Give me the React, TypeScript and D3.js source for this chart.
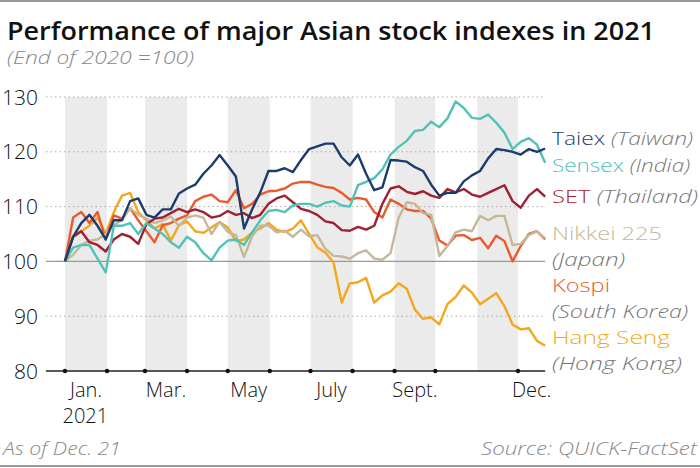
import React from "react";
import * as d3 from "d3";

const STEP_DAYS = 6;
const START = new Date(2021, 0, 1);

const taiex = [100, 104.5, 107, 108.5, 106.5, 104, 107.5, 107.5, 111, 111.5, 108.5, 108, 109.5, 109.5, 112.4, 113.3, 114, 116, 117.5, 119.4, 117.5, 115.5, 106, 109.5, 112.6, 116.5, 116.5, 117, 116.3, 118.5, 120.5, 121, 121.5, 121.5, 119, 117.5, 119.5, 116, 113, 113.5, 118.5, 118.4, 118.2, 117.2, 116.5, 114, 112, 112.5, 112.5, 114.6, 115.7, 116.5, 118.8, 120.5, 120.3, 120, 119.5, 120.5, 120, 120.6];
const sensex = [100, 102.5, 103, 103, 100.5, 98, 106.5, 106.5, 107, 105, 107, 106, 105, 103.5, 102.5, 104.5, 103.5, 101.5, 100.2, 102.5, 103.8, 104, 103, 105.3, 107.5, 109.2, 109.4, 109, 110.2, 110.5, 110.5, 110, 110.7, 111, 110.2, 110, 113.9, 114.5, 115.2, 116.8, 119.5, 120.9, 122, 123.8, 124, 125.5, 124.5, 126.1, 129.2, 128, 126.2, 126, 126.8, 125.3, 123.5, 120.5, 121.8, 122.5, 121.3, 118];
const setIdx = [100, 104.5, 105.5, 103.5, 103, 101.8, 104, 105, 104.5, 103.2, 106.8, 107.8, 108, 108.8, 109.6, 109, 109.5, 109, 108, 108.3, 109.2, 108.5, 108.8, 107.9, 108.5, 110.5, 111.5, 112, 110.8, 109.6, 109.2, 108.5, 107.3, 107, 105.7, 105.6, 106.3, 105.8, 106.5, 110.5, 113.3, 113.7, 112.7, 112.3, 112.8, 112, 111.6, 113.2, 112.6, 113.2, 112.2, 111.8, 112.5, 113.2, 113.9, 111, 109.8, 112, 113.2, 111.8];
const nikkei = [100, 101.2, 103, 103.8, 104, 105, 106.6, 107.6, 109.7, 108.5, 107.8, 107, 107.5, 108.2, 106.5, 108, 108.4, 108, 105, 107.2, 105.4, 104.8, 100.8, 104.6, 106.5, 106.6, 105.3, 105.6, 104.5, 105.8, 104.6, 104.8, 102.3, 101, 100.9, 100.5, 101.5, 102, 100.5, 100.3, 101.5, 108, 110.8, 110.5, 108.8, 108.5, 101, 102.8, 105.3, 105.8, 105.5, 108.3, 107.5, 108.3, 108.3, 103, 103.2, 104.8, 105.5, 104.2];
const kospi = [100, 108, 109, 107, 109, 104, 108.4, 107.8, 109.7, 107.5, 105.5, 103.5, 106.6, 107, 107.8, 108.4, 111, 111.8, 112.2, 111, 110.8, 113, 109.7, 110.5, 112.2, 112.8, 112.9, 113.3, 114.2, 114.5, 114.5, 114, 113.6, 113.4, 112.5, 111.3, 111.6, 111.3, 109, 108, 111.3, 110.5, 109.5, 109.2, 109.2, 107.8, 103.8, 102.9, 104.7, 104.8, 103.9, 104.3, 102.4, 104.7, 103.7, 100, 102.8, 105, 105.5, 104];
const hangSeng = [100, 104.5, 105.5, 106.5, 108, 105, 109, 112, 112.5, 109, 107.5, 106, 106.8, 103.8, 106.6, 107.3, 105.5, 105.2, 106.2, 107.2, 106.2, 103.7, 104, 105.3, 106, 107, 105.8, 105.4, 106, 107.5, 105, 102.6, 101.6, 99.8, 92.5, 96, 96.2, 97, 92.5, 93.8, 94.5, 96, 95, 91.2, 89.5, 89.8, 88.5, 92.2, 93.5, 95.6, 94.3, 92.2, 93.2, 94.2, 91.8, 88.5, 87.6, 87.8, 85.5, 84.6];

const seriesNames = ["Hang Seng", "Kospi", "Nikkei 225", "SET", "Sensex", "Taiex"];
const seriesValues = [hangSeng, kospi, nikkei, setIdx, sensex, taiex];
const seriesColors = ["#f2a71e", "#ea5a2b", "#c6b798", "#a01f30", "#52c2b7", "#1c3c6c"];

const yTicks = [80, 90, 100, 110, 120, 130];
const shadedMonths = [0, 2, 4, 6, 8, 10];
const monthLabels = [
  { m: 0, text: "Jan." },
  { m: 2, text: "Mar." },
  { m: 4, text: "May" },
  { m: 6, text: "July" },
  { m: 8, text: "Sept." },
  { m: 11, text: "Dec." },
];

const legendItems = [
  { name: "Taiex", note: "(Taiwan)", color: "#1c3c6c", lines: 1 },
  { name: "Sensex", note: "(India)", color: "#52c2b7", lines: 1 },
  { name: "SET", note: "(Thailand)", color: "#a01f30", lines: 1 },
  { name: "Nikkei 225", note: "(Japan)", color: "#c6b798", lines: 2 },
  { name: "Kospi", note: "(South Korea)", color: "#ea5a2b", lines: 2 },
  { name: "Hang Seng", note: "(Hong Kong)", color: "#f2a71e", lines: 2 },
];
// layout: baselines and rendered widths of legend lines
const legendBaselines = [145, 172, 203, 240, 292, 344];
const legendWidths = [[141], [138], [146], [110, 73], [58, 136], [118, 130]];

const FONT = "'Open Sans', Lato, sans-serif";

export default function App() {
  const W = 700, H = 468;
  const x = d3.scaleTime().domain([START, new Date(2021, 11, 1)]).range([65, 518]);
  const y = d3.scaleLinear().domain([80, 130]).range([371, 97]);
  const dateAt = (i: number) => d3.timeDay.offset(START, i * STEP_DAYS);
  const line = d3.line<number>().x((_, i) => x(dateAt(i))).y((v) => y(v)).curve(d3.curveLinear);
  const lastDate = dateAt(taiex.length - 1);
  const xEnd = x(lastDate);
  const xStartAxis = 46;

  const dotMonths = [0, 1, 2, 3, 4, 5, 6, 7, 8, 9, 11];
  const LFS = 19;

  return (
    <svg width={W} height={H} style={{ position: "absolute", left: 0, top: 0, background: "#fff" }} fontFamily={FONT}>
      <rect x={0} y={0} width={W} height={H} fill="#fff" />
      <line x1={0} x2={W} y1={1} y2={1} stroke="#999" strokeWidth={2} />
      <line x1={0} x2={W} y1={466} y2={466} stroke="#999" strokeWidth={2} />

      <text x={7} y={40} fontSize={25} fontWeight={600} fill="#111" textLength={648} lengthAdjust="spacingAndGlyphs">Performance of major Asian stock indexes in 2021</text>
      <text x={7} y={64} fontSize={18} fontStyle="italic" fontWeight={300} fill="#888" textLength={187} lengthAdjust="spacingAndGlyphs">(End of 2020 =100)</text>

      {shadedMonths.map((m) => (
        <rect key={m} x={x(new Date(2021, m, 1))} y={y(130)} width={x(new Date(2021, m + 1, 1)) - x(new Date(2021, m, 1))} height={y(80) - y(130)} fill="#ebebeb" />
      ))}

      {yTicks.filter((t) => t !== 80 && t !== 100).map((t) => (
        <line key={t} x1={xStartAxis} x2={xEnd} y1={y(t)} y2={y(t)} stroke="#aaa" strokeWidth={1} strokeDasharray="1.5,3" />
      ))}
      <line x1={xStartAxis} x2={xEnd} y1={y(100)} y2={y(100)} stroke="#999" strokeWidth={1.2} />

      {yTicks.map((t) => (
        <text key={t} x={38} y={y(t) + 7.5} textAnchor="end" fontSize={21} fontWeight={300} fill="#111">{t}</text>
      ))}

      {seriesValues.map((vals, k) => (
        <path key={seriesNames[k]} d={line(vals) || ""} fill="none" stroke={seriesColors[k]} strokeWidth={2.4} strokeLinejoin="round" />
      ))}

      <line x1={xStartAxis} x2={xEnd} y1={y(80)} y2={y(80)} stroke="#222" strokeWidth={1.6} />
      {dotMonths.map((m) => (
        <circle key={m} cx={x(new Date(2021, m, 1))} cy={y(80)} r={2.2} fill="#111" />
      ))}

      {monthLabels.map(({ m, text }) => {
        const a = x(new Date(2021, m, 1));
        const b = m === 11 ? xEnd : x(new Date(2021, m + 1, 1));
        return (
          <text key={m} x={(a + b) / 2} y={397} textAnchor="middle" fontSize={20} fontWeight={300} fill="#111">{text}</text>
        );
      })}
      <text x={x(new Date(2021, 0, 16))} y={423} textAnchor="middle" fontSize={20} fontWeight={300} fill="#111">2021</text>

      {legendItems.map((it, k) => {
        const by = legendBaselines[k];
        const w = legendWidths[k];
        return it.lines === 1 ? (
          <text key={it.name} x={552} y={by} fontSize={LFS} fontWeight={300} textLength={w[0]} lengthAdjust="spacingAndGlyphs">
            <tspan fill={it.color}>{it.name}</tspan>
            <tspan fill="#777" fontStyle="italic"> {it.note}</tspan>
          </text>
        ) : (
          <g key={it.name}>
            <text x={552} y={by} fontSize={LFS} fontWeight={300} fill={it.color} textLength={w[0]} lengthAdjust="spacingAndGlyphs">{it.name}</text>
            <text x={552} y={by + 26} fontSize={LFS} fontWeight={300} fill="#777" fontStyle="italic" textLength={w[1]} lengthAdjust="spacingAndGlyphs">{it.note}</text>
          </g>
        );
      })}

      <text x={3} y={455} fontSize={18} fontStyle="italic" fontWeight={300} fill="#888" textLength={118} lengthAdjust="spacingAndGlyphs">As of Dec. 21</text>
      <text x={697} y={455} textAnchor="end" fontSize={18} fontStyle="italic" fontWeight={300} fill="#888" textLength={216} lengthAdjust="spacingAndGlyphs">Source: QUICK-FactSet</text>
    </svg>
  );
}
